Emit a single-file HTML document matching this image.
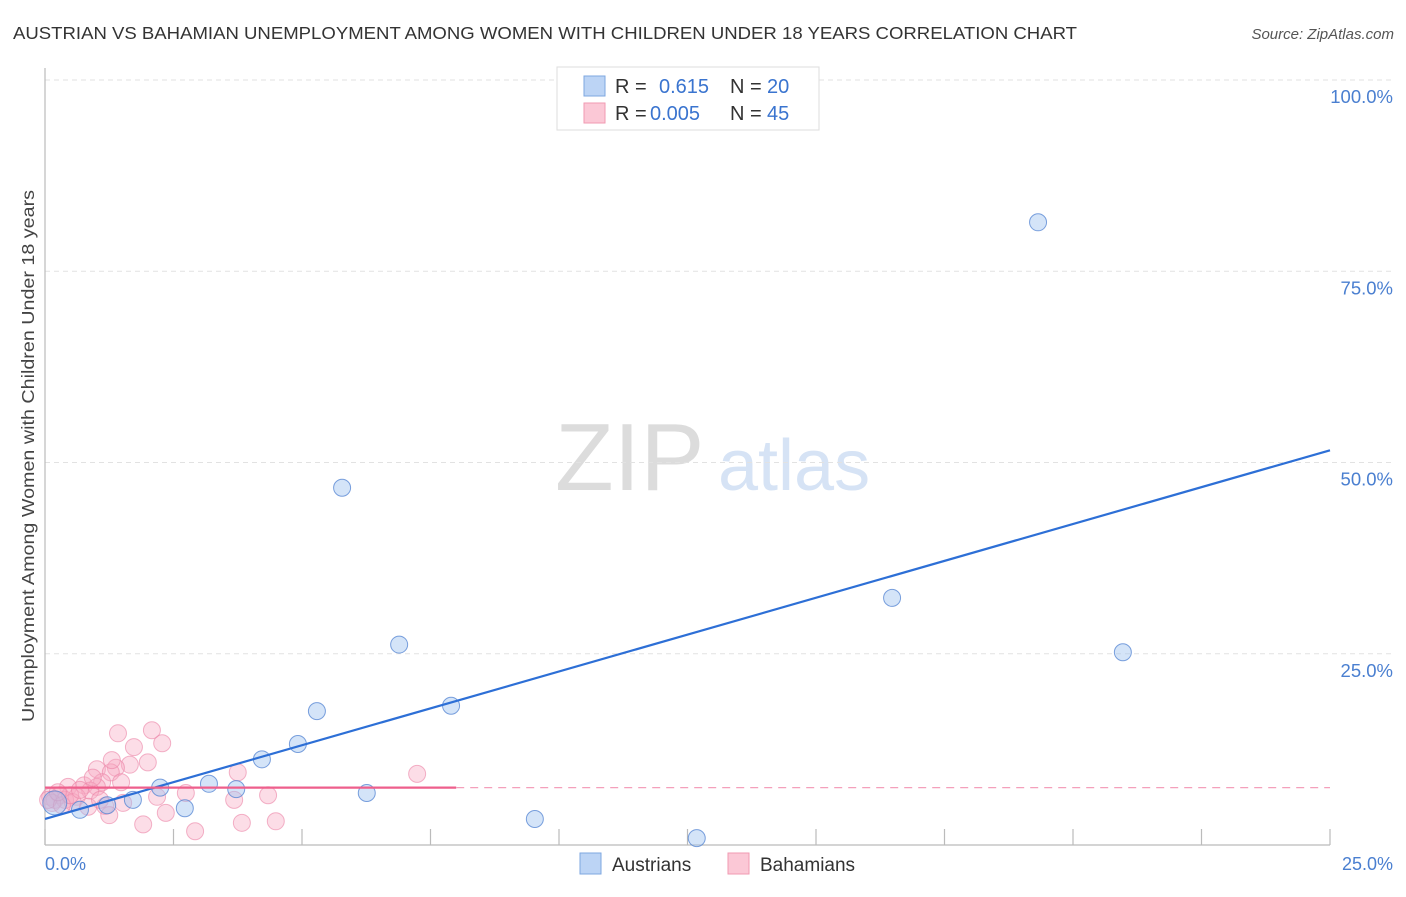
<!DOCTYPE html>
<html><head><meta charset="utf-8"><style>
body{margin:0;background:#fff;font-family:"Liberation Sans",sans-serif;}
svg text{font-family:"Liberation Sans",sans-serif;}
</style></head><body>
<svg id="chart" width="1406" height="892" xmlns="http://www.w3.org/2000/svg">
<text x="13" y="39" font-size="17.5" fill="#333" textLength="1064" lengthAdjust="spacingAndGlyphs">AUSTRIAN VS BAHAMIAN UNEMPLOYMENT AMONG WOMEN WITH CHILDREN UNDER 18 YEARS CORRELATION CHART</text>
<text x="1394" y="39" font-size="15" fill="#555" font-style="italic" text-anchor="end">Source: ZipAtlas.com</text>
<text transform="translate(34,456) rotate(-90)" font-size="17.5" fill="#444" text-anchor="middle" textLength="532" lengthAdjust="spacingAndGlyphs">Unemployment Among Women with Children Under 18 years</text>
<g>
<text x="555" y="490" font-size="96" fill="#dcdcdc" font-family="Liberation Serif,serif">ZIP</text>
<text x="718" y="490" font-size="72" fill="#d6e3f5">atlas</text>
</g>
<g id="grid"></g>
<line x1="45" y1="68" x2="45" y2="845" stroke="#bbb" stroke-width="1.2"/>
<line x1="45" y1="845" x2="1330" y2="845" stroke="#bbb" stroke-width="1.2"/>
<g id="xticks"></g>
<g id="pts"></g>
<g id="lines"></g>
<text x="45" y="870" font-size="18" fill="#4a7fd0">0.0%</text>
<text x="1393" y="870" font-size="18" fill="#4a7fd0" text-anchor="end">25.0%</text>
<g>
<rect x="557" y="67" width="262" height="63" fill="#fff" stroke="#ddd"/>
<rect x="584" y="76" width="21" height="20" fill="#bcd4f5" stroke="#7ea7e0"/>
<rect x="584" y="103" width="21" height="20" fill="#fbc8d6" stroke="#f09ab2"/>
<text x="615" y="93" font-size="20" fill="#333">R = </text><text x="659" y="93" font-size="20" fill="#3a74cf">0.615</text>
<text x="730" y="93" font-size="20" fill="#333">N = </text><text x="767" y="93" font-size="20" fill="#3a74cf">20</text>
<text x="615" y="120" font-size="20" fill="#333">R = </text><text x="650" y="120" font-size="20" fill="#3a74cf">0.005</text>
<text x="730" y="120" font-size="20" fill="#333">N = </text><text x="767" y="120" font-size="20" fill="#3a74cf">45</text>
</g>
<g>
<rect x="580" y="853" width="21" height="21" fill="#bcd4f5" stroke="#7ea7e0"/>
<text x="612" y="871" font-size="19" fill="#333">Austrians</text></g>
<g>
<rect x="728" y="853" width="21" height="21" fill="#fbc8d6" stroke="#f09ab2"/>
<text x="760" y="871" font-size="19" fill="#333">Bahamians</text></g>
</svg>
<script>
const yTicks=[25,50,75,100];
const xTickVals=[0,2.5,5,7.5,10,12.5,15,17.5,20,22.5,25];
const austX=[19.32,5.78,16.48,20.97,6.89,5.29,7.90,4.92,4.22,3.19,3.72,2.24,1.71,2.72,1.21,0.68,6.26,9.53,12.68,0.19];
const austY=[81.4,46.7,32.3,25.2,26.2,17.5,18.2,13.2,11.2,8.0,7.3,7.5,5.9,4.8,5.2,4.6,6.8,3.4,0.9,5.5];
const bahX=[2.08,1.42,2.28,1.73,2.00,1.65,1.38,1.01,1.28,1.48,1.11,0.76,1.01,0.45,0.88,0.62,0.29,0.10,0.19,0.39,0.54,0.84,1.17,1.52,1.25,1.91,2.35,2.18,2.74,2.92,3.68,3.75,3.83,4.34,4.49,7.24,0.14,0.06,0.33,0.49,0.68,0.93,1.30,0.25,1.07];
const bahY=[15.0,14.6,13.3,12.8,10.8,10.5,10.1,9.9,9.5,8.2,8.2,7.8,7.6,7.6,7.1,6.3,6.5,6.3,5.9,5.9,5.6,5.0,5.1,5.5,3.9,2.7,4.2,6.3,6.8,1.8,5.9,9.5,2.9,6.5,3.1,9.3,5.5,5.9,5.2,6.5,7.2,8.8,11.1,6.9,5.9];
const austLine=[3.4,51.6];
const bahLine=[7.5,7.5];
const bahSolidEnd=8.0;
const NS='http://www.w3.org/2000/svg';
const sx=v=>45+v/25*1285, sy=v=>845-v*7.65;
function mk(t,a,p){const e=document.createElementNS(NS,t);for(const k in a)e.setAttribute(k,a[k]);document.getElementById(p).appendChild(e);return e;}
yTicks.forEach(v=>{
 const l=mk('line',{x1:45,x2:1394,y1:sy(v),y2:sy(v),stroke:'#e2e2e2','stroke-dasharray':'5,4'},'grid');
 
 
 const t=mk('text',{x:1393,y:sy(v)+23,'font-size':18.5,fill:'#4a7fd0','text-anchor':'end'},'grid');
 t.textContent=v.toFixed(1)+'%';
 
 
});
xTickVals.forEach(v=>{
 const l=mk('line',{x1:sx(v),x2:sx(v),y1:829,y2:845,stroke:'#bbb','stroke-width':1.2},'xticks');
 
 
});
bahX.forEach((x,i)=>{
 const c=mk('circle',{cx:sx(x),cy:sy(bahY[i]),r:8.5,fill:'rgba(248,170,195,0.4)',stroke:'rgba(235,130,165,0.6)','stroke-width':1},'pts');
 
 
});
austX.forEach((x,i)=>{
 const c=mk('circle',{cx:sx(x),cy:sy(austY[i]),r:i==19?12:8.5,fill:'rgba(160,195,240,0.45)',stroke:'rgba(80,130,210,0.75)','stroke-width':1},'pts');
 
 
});
const bl=mk('line',{x1:sx(0),y1:sy(austLine[0]),x2:sx(25),y2:sy(austLine[1]),stroke:'#2d6fd6','stroke-width':2.2},'lines');


const pl=mk('line',{x1:sx(0),y1:sy(bahLine[0]),x2:sx(bahSolidEnd),y2:sy(bahLine[0]),stroke:'#ee5f8c','stroke-width':2.2},'lines');


const pd=mk('line',{x1:sx(bahSolidEnd),y1:sy(bahLine[0]),x2:sx(25),y2:sy(bahLine[1]),stroke:'#f4a0bb','stroke-width':1.3,'stroke-dasharray':'8,6'},'lines');


</script>
</body></html>
